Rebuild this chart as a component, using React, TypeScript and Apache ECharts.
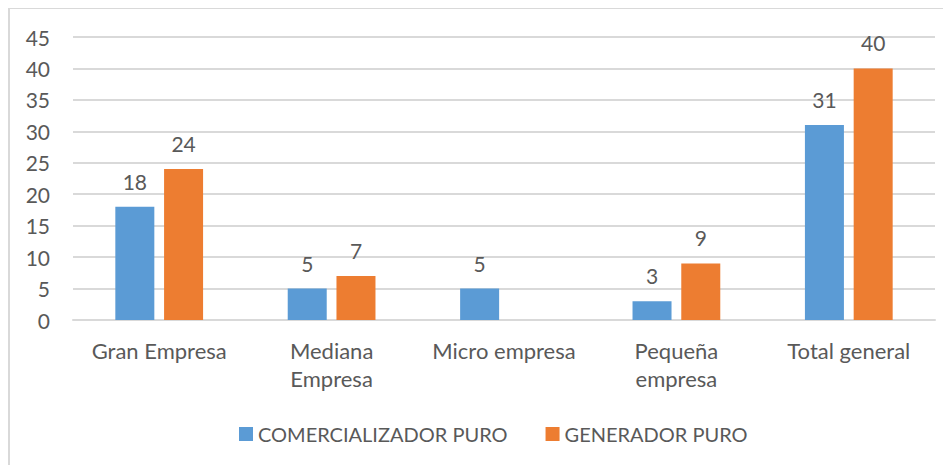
import React, { useEffect, useRef } from "react";
import * as echarts from "echarts";

const categories = ["Gran Empresa", "Mediana\nEmpresa", "Micro empresa", "Pequeña\nempresa", "Total general"];
const comercializador = [18, 5, 5, 3, 31];
const generador = [24, 7, null, 9, 40];
const seriesNames = ["COMERCIALIZADOR PURO", "GENERADOR PURO"];

const FONT = "Lato";
const TEXT = "#595959";

export default function App() {
  const ref = useRef<HTMLDivElement>(null);
  useEffect(() => {
    const chart = echarts.init(ref.current!, null, { renderer: "svg" });
    const label = {
      show: true,
      position: "top",
      distance: 15,
      color: TEXT,
      fontFamily: FONT,
      fontSize: 21,
    };
    chart.setOption({
      animation: false,
      backgroundColor: "#fff",
      textStyle: { fontFamily: FONT },
      graphic: [
        { type: "line", shape: { x1: 1, y1: 0, x2: 1, y2: 457 }, style: { stroke: "#d9d9d9", lineWidth: 2 } },
        { type: "line", shape: { x1: 0, y1: 0, x2: 943, y2: 0 }, style: { stroke: "#d9d9d9", lineWidth: 2 } },
      ],
      grid: { left: 65, right: 16, top: 29, height: 283, containLabel: false },
      legend: {
        left: 226,
        top: 411,
        itemWidth: 14,
        itemHeight: 14,
        itemGap: 38,
        icon: "rect",
        textStyle: { color: TEXT, fontFamily: FONT, fontSize: 20 },
        data: seriesNames,
      },
      xAxis: {
        type: "category",
        data: categories,
        axisLine: { show: true, lineStyle: { color: "#d9d9d9", width: 2 } },
        axisTick: { show: false },
        axisLabel: {
          color: TEXT,
          fontFamily: FONT,
          fontSize: 22,
          lineHeight: 28,
          margin: 16,
          interval: 0,
        },
      },
      yAxis: {
        type: "value",
        min: 0,
        max: 45,
        interval: 5,
        axisLine: { show: false },
        axisTick: { show: false },
        splitLine: { lineStyle: { color: "#d9d9d9", width: 2 } },
        axisLabel: { color: TEXT, fontFamily: FONT, fontSize: 21, margin: 23 },
      },
      series: [
        {
          name: seriesNames[0],
          type: "bar",
          data: comercializador,
          barWidth: 39,
          barGap: "25%",
          itemStyle: { color: "#5B9BD5" },
          label,
        },
        {
          name: seriesNames[1],
          type: "bar",
          data: generador,
          barWidth: 39,
          barGap: "25%",
          itemStyle: { color: "#ED7D31" },
          label,
        },
      ],
    });
    return () => chart.dispose();
  }, []);
  return <div ref={ref} style={{ width: 943, height: 457 }} />;
}
